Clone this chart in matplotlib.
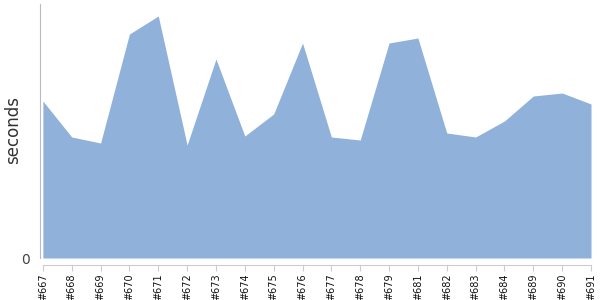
import numpy as np
import matplotlib
matplotlib.use('Agg')
import matplotlib.pyplot as plt

# build labels and run times (seconds)
builds = ['#667', '#668', '#669', '#670', '#671', '#672', '#673', '#674', '#675', '#676',
          '#677', '#678', '#679', '#681', '#682', '#683', '#684', '#689', '#690', '#691']
seconds = [78.5, 60.5, 57.5, 112.0, 121.0, 56.5, 99.5, 61.0, 72.0, 107.5,
           60.5, 59.0, 107.5, 110.0, 62.5, 60.5, 68.5, 81.0, 82.5, 77.0]

fig = plt.figure(figsize=(6, 3), dpi=100)
ax = fig.add_axes([40/600, 42/300, 551/600, 254/300])

x = np.arange(len(builds))
ax.fill_between(x, 0, seconds, color='#8fb1da', linewidth=0)

ax.set_xlim(-0.1, len(builds) - 1)
ax.set_ylim(0, 127)

# spines
for s in ['top', 'right']:
    ax.spines[s].set_visible(False)
ax.spines['left'].set_color('#bbbbbb')
ax.spines['bottom'].set_color('#cccccc')
ax.spines['bottom'].set_position(('outward', 5))
ax.spines['bottom'].set_bounds(0, len(builds) - 1)

ax.set_xticks(x)
ax.set_xticklabels(builds, rotation=90, fontsize=7, color='#111111')
ax.tick_params(axis='x', length=4, color='#cccccc', pad=2)

ax.set_yticks([0])
ax.set_yticklabels(['0'], fontsize=10, color='#444444')
ax.tick_params(axis='y', length=0, pad=7)

# y label placed by hand so it is not cut at the left edge
fig.text(13/600, 1 - 130/300, 'seconds', rotation=90, ha='center', va='center',
         fontsize=12, color='#333333')

fig.savefig('out.png', dpi=100)
